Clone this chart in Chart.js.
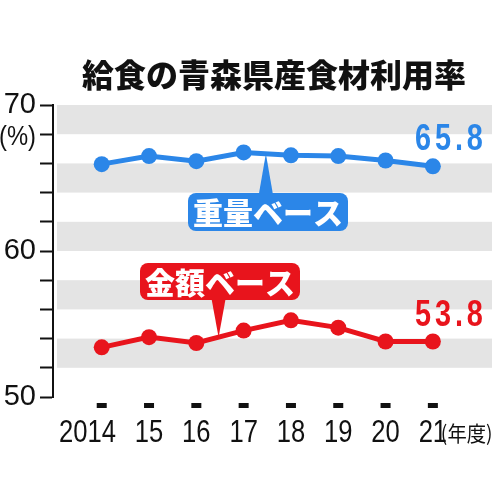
<!DOCTYPE html>
<html>
<head>
<meta charset="utf-8">
<script src="https://cdn.jsdelivr.net/npm/chart.js@4"></script>
<style>
  html, body { margin: 0; padding: 0; background: #fff; }
  #wrap { width: 500px; height: 500px; }
</style>
</head>
<body>
<div id="wrap"><canvas id="plot-area"></canvas></div>
<script>
const years = ["2014", "15", "16", "17", "18", "19", "20", "21"];
const weightBase = [65.95, 66.5, 66.15, 66.75, 66.55, 66.5, 66.2, 65.8];
const amountBase = [53.4, 54.1, 53.7, 54.55, 55.25, 54.75, 53.8, 53.8];
const titleText = "給食の青森県産食材利用率";
const weightLabel = "重量ベース";
const amountLabel = "金額ベース";
const unitText = "(%)";
const yearUnit = "(年度)";

const BLUE = "#2b86e8";
const RED = "#e8141c";
const NUM_FONT = '"Liberation Sans", sans-serif';
const JP_FONT = '"Noto Sans CJK JP", sans-serif';

function toPoints(arr) {
  return arr.map((v, i) => ({ x: i, y: v }));
}

function roundRect(ctx, x, y, w, h, r) {
  ctx.beginPath();
  ctx.moveTo(x + r, y);
  ctx.arcTo(x + w, y, x + w, y + h, r);
  ctx.arcTo(x + w, y + h, x, y + h, r);
  ctx.arcTo(x, y + h, x, y, r);
  ctx.arcTo(x, y, x + w, y, r);
  ctx.closePath();
}

// point on the line between two data indices
function linePoint(chart, data, at) {
  const i = Math.floor(at), t = at - i;
  const v = data[i] + (data[i + 1] - data[i]) * t;
  return { x: chart.scales.x.getPixelForValue(at), y: chart.scales.y.getPixelForValue(v) };
}

// narrow text: squeeze horizontally around x
function narrowText(ctx, text, x, y, sx, align) {
  ctx.save();
  ctx.translate(x, y);
  ctx.scale(sx, 1);
  ctx.textAlign = align;
  ctx.fillText(text, 0, 0);
  ctx.restore();
}

// callout box with a pointer to the line
function callout(ctx, text, color, box, tip, below) {
  ctx.fillStyle = color;
  roundRect(ctx, box.x, box.y, box.w, box.h, 8);
  ctx.fill();
  ctx.beginPath();
  const baseY = below ? box.y + box.h - 1 : box.y + 1;
  ctx.moveTo(tip.x - 7, baseY);
  ctx.lineTo(tip.x + 7, baseY);
  ctx.lineTo(tip.x, tip.y);
  ctx.closePath();
  ctx.fill();
  ctx.fillStyle = "#fff";
  ctx.font = "900 30px " + JP_FONT;
  ctx.textAlign = "center";
  ctx.textBaseline = "middle";
  ctx.fillText(text, box.x + box.w / 2, box.y + box.h / 2 + 1);
}

const bandsPlugin = {
  id: "bands",
  beforeDatasetsDraw(chart) {
    const { ctx, chartArea, scales } = chart;
    ctx.save();
    ctx.fillStyle = "#e4e4e4";
    for (let v = 52; v < 70; v += 4) {
      const top = scales.y.getPixelForValue(v + 2);
      const bot = scales.y.getPixelForValue(v);
      ctx.fillRect(chartArea.left + 4, top, chartArea.right - chartArea.left - 4, bot - top);
    }
    ctx.restore();
  },
};

const textPlugin = {
  id: "texts",
  afterDraw(chart) {
    const { ctx, chartArea, scales } = chart;
    ctx.save();

    // title
    ctx.fillStyle = "#111";
    ctx.font = "900 32px " + JP_FONT;
    ctx.textAlign = "center";
    ctx.textBaseline = "middle";
    ctx.fillText(titleText, 274, 75);

    // unit under 70
    ctx.font = "28px " + NUM_FONT;
    narrowText(ctx, unitText, 36, 137, 0.85, "right");

    // x axis squares and labels
    ctx.font = "32px " + NUM_FONT;
    const sx = 0.8;
    years.forEach((y, i) => {
      const x = scales.x.getPixelForValue(i);
      ctx.fillStyle = "#111";
      ctx.fillRect(x - 5, chartArea.bottom + 6, 10, 5);
      const tail = y.slice(-2), head = y.slice(0, -2);
      narrowText(ctx, tail, x, 433, sx, "center");
      if (head) {
        narrowText(ctx, head, x - ctx.measureText(tail).width * sx / 2, 433, sx, "right");
      }
    });
    const lastX = scales.x.getPixelForValue(years.length - 1);
    ctx.font = "21px " + JP_FONT;
    narrowText(ctx, yearUnit, lastX + 8, 433, 0.92, "left");

    // end values
    const n = years.length - 1;
    ctx.font = "700 37px " + NUM_FONT;
    ctx.letterSpacing = "5px";
    ctx.fillStyle = BLUE;
    narrowText(ctx, weightBase[n].toFixed(1), scales.x.getPixelForValue(n) + 18,
      scales.y.getPixelForValue(weightBase[n]) - 27, 0.78, "center");
    ctx.fillStyle = RED;
    narrowText(ctx, amountBase[n].toFixed(1), scales.x.getPixelForValue(n) + 18,
      scales.y.getPixelForValue(amountBase[n]) - 26, 0.78, "center");
    ctx.letterSpacing = "0px";

    // callouts
    const tipB = linePoint(chart, weightBase, 3.47);
    callout(ctx, weightLabel, BLUE, { x: 188, y: 193, w: 160, h: 38 }, tipB, false);
    const tipR = linePoint(chart, amountBase, 2.47);
    callout(ctx, amountLabel, RED, { x: 140, y: 263, w: 160, h: 37 }, tipR, true);

    ctx.restore();
  },
};

const config = {
  type: "line",
  data: {
    datasets: [
      {
        label: weightLabel,
        data: toPoints(weightBase),
        borderColor: BLUE,
        backgroundColor: BLUE,
        borderWidth: 5,
        pointRadius: 8,
        pointBorderWidth: 0,
      },
      {
        label: amountLabel,
        data: toPoints(amountBase),
        borderColor: RED,
        backgroundColor: RED,
        borderWidth: 5,
        pointRadius: 8,
        pointBorderWidth: 0,
      },
    ],
  },
  options: {
    responsive: true,
    maintainAspectRatio: false,
    animation: false,
    layout: { padding: { top: 105, bottom: 103, right: 5, left: 0 } },
    scales: {
      x: {
        type: "linear",
        display: false,
        min: -1.03,
        max: 8.25,
      },
      y: {
        min: 50,
        max: 70,
        afterFit(s) { s.width = 53; },
        grid: {
          drawOnChartArea: false,
          tickLength: 13,
          tickColor: "#111",
          tickWidth: 2,
        },
        border: { display: true, color: "#111", width: 2 },
        ticks: {
          stepSize: 2,
          autoSkip: false,
          padding: 4,
          color: "#111",
          font: { family: "Liberation Sans", size: 29 },
          callback: (v) => (v % 10 === 0 ? v : ""),
        },
      },
    },
    plugins: {
      legend: { display: false },
      tooltip: { enabled: false },
    },
  },
  plugins: [bandsPlugin, textPlugin],
};

new Chart(document.getElementById("plot-area").getContext("2d"), config);
</script>
</body>
</html>
